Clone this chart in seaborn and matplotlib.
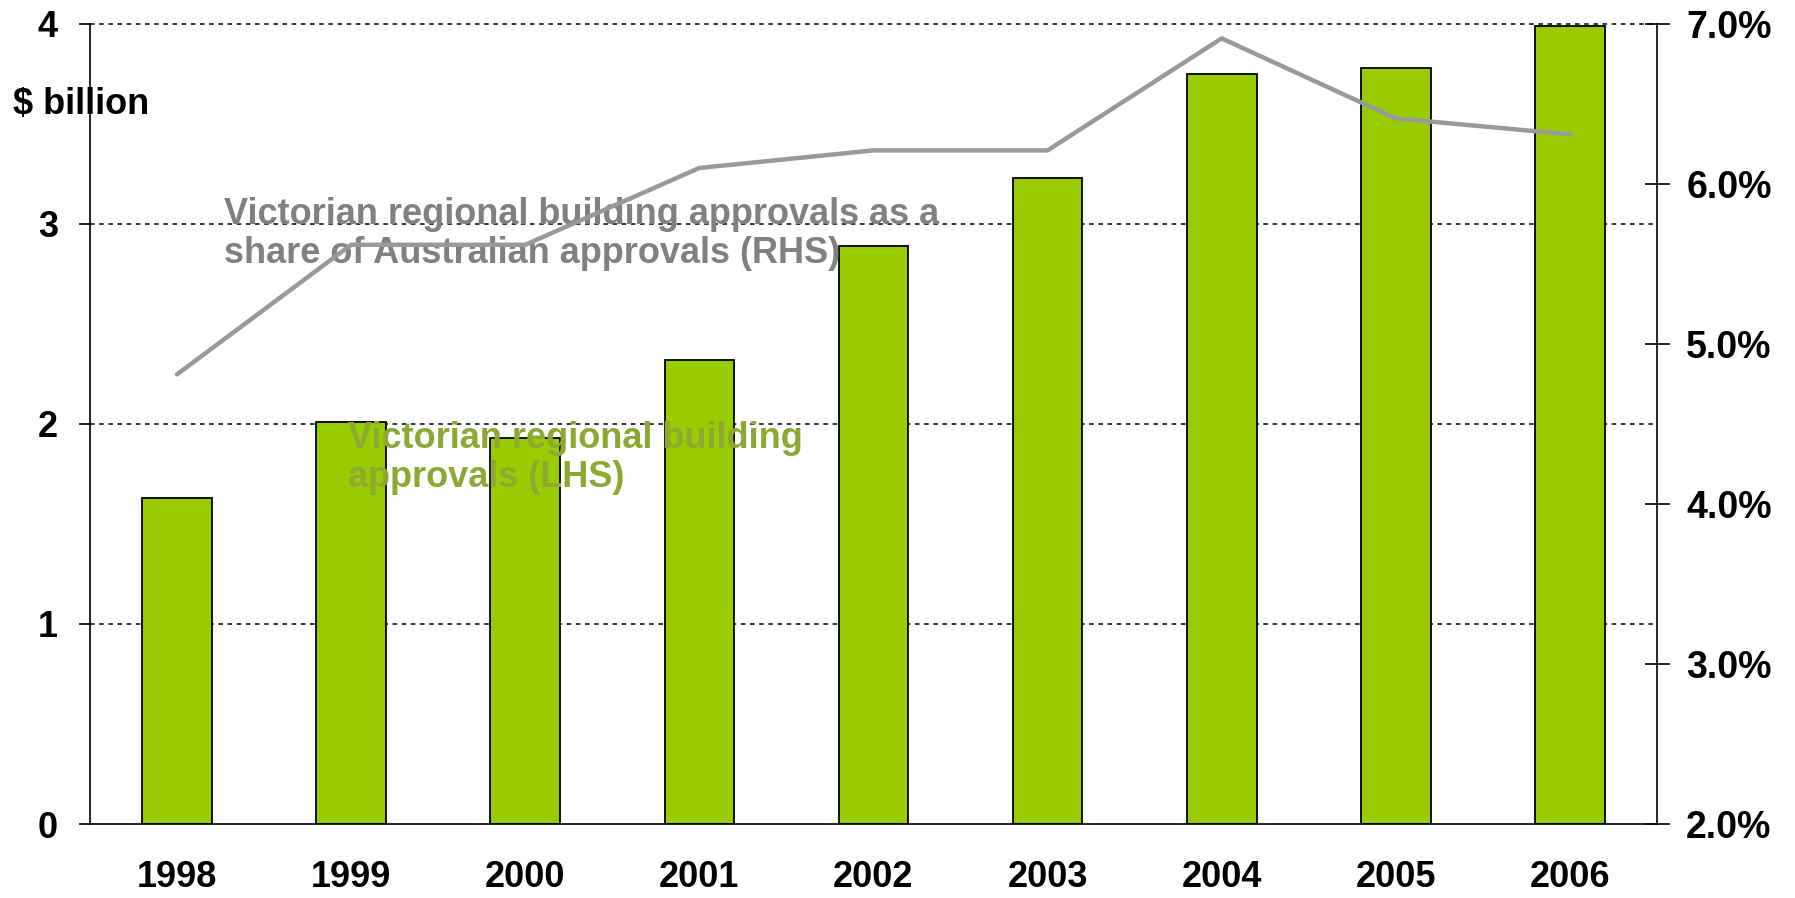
import numpy as np
import pandas as pd
import matplotlib
matplotlib.use('Agg')
import matplotlib.pyplot as plt
import seaborn as sns

years = ['1998', '1999', '2000', '2001', '2002', '2003', '2004', '2005', '2006']
approvals_bn = [1.63, 2.01, 1.93, 2.32, 2.89, 3.23, 3.75, 3.78, 3.99]
share_pct = [4.81, 5.62, 5.62, 6.10, 6.21, 6.21, 6.91, 6.41, 6.31]
left_ticks = [0, 1, 2, 3, 4]
right_ticks = [2.0, 3.0, 4.0, 5.0, 6.0, 7.0]

sns.set_style('white')
plt.rcParams['font.family'] = ['Liberation Sans', 'DejaVu Sans']
plt.rcParams['font.weight'] = 'bold'
plt.rcParams['text.color'] = 'black'
plt.rcParams['xtick.color'] = 'black'
plt.rcParams['ytick.color'] = 'black'

FS = 26

df = pd.DataFrame({'year': years, 'approvals': approvals_bn,
                   'pos': np.arange(len(years)), 'share': share_pct})

fig, ax = plt.subplots(figsize=(17.95, 8.98), dpi=100)
fig.subplots_adjust(left=0.0501, right=0.9231, top=0.9733, bottom=0.0824)

# --- bars (LHS) ---
sns.barplot(data=df, x='year', y='approvals', color='#99CC00', width=0.4,
            edgecolor='black', linewidth=1.3, saturation=1, ax=ax, zorder=2)
ax.set_xlim(-0.5, len(years) - 0.5)
ax.set_ylim(0, 4)
ax.set_yticks(left_ticks)
ax.set_yticklabels([str(t) for t in left_ticks])
ax.set_xlabel('')
ax.set_ylabel('')
for t in left_ticks[1:]:
    ax.axhline(t, color='black', lw=1.1, ls=(0, (3, 3)), zorder=1, clip_on=False)

ax.set_xticks(np.arange(len(years)))
ax.set_xticklabels(years)
ax.set_xticks(np.arange(len(years) + 1) - 0.5, minor=True)
ax.tick_params(axis='x', which='major', length=0, pad=26, labelsize=FS)
ax.tick_params(axis='x', which='minor', length=9, width=1.2, direction='out')
ax.tick_params(axis='y', which='major', length=8, width=1.2, direction='out',
               pad=15, labelsize=FS, left=True)
for s in ['top', 'right']:
    ax.spines[s].set_visible(False)
for s in ['left', 'bottom']:
    ax.spines[s].set_color('black')
    ax.spines[s].set_linewidth(1.2)

# --- line (RHS) ---
ax2 = ax.twinx()
sns.lineplot(data=df, x='pos', y='share', color='#999999', lw=3.2, ax=ax2,
             zorder=3)
ax2.set_ylim(2.0, 7.0)
ax2.set_yticks(right_ticks)
ax2.set_yticklabels([f'{t:.1f}%' for t in right_ticks])
ax2.set_xlim(-0.5, len(years) - 0.5)
ax2.set_ylabel('')
ax2.set_xlabel('')
ax2.tick_params(axis='y', length=18, width=1.2, direction='inout', pad=12,
                labelsize=FS + 1, right=True)
for s in ['top', 'left', 'bottom']:
    ax2.spines[s].set_visible(False)
ax2.spines['right'].set_color('black')
ax2.spines['right'].set_linewidth(1.2)

ax.text(0.27, 2.95, 'Victorian regional building approvals as a\n'
        'share of Australian approvals (RHS)', color='#808080', fontsize=FS,
        fontweight='bold', ha='left', va='center', linespacing=1.15, zorder=5)
ax2.text(0.98, 4.29, 'Victorian regional building\napprovals (LHS)',
         color='#8CA832', fontsize=FS, fontweight='bold', ha='left',
         va='center', linespacing=1.15, zorder=5)

fig.text(0.007, 0.884, '$ billion', fontsize=FS, fontweight='bold',
         ha='left', va='center')

fig.savefig('out.png', dpi=100)
